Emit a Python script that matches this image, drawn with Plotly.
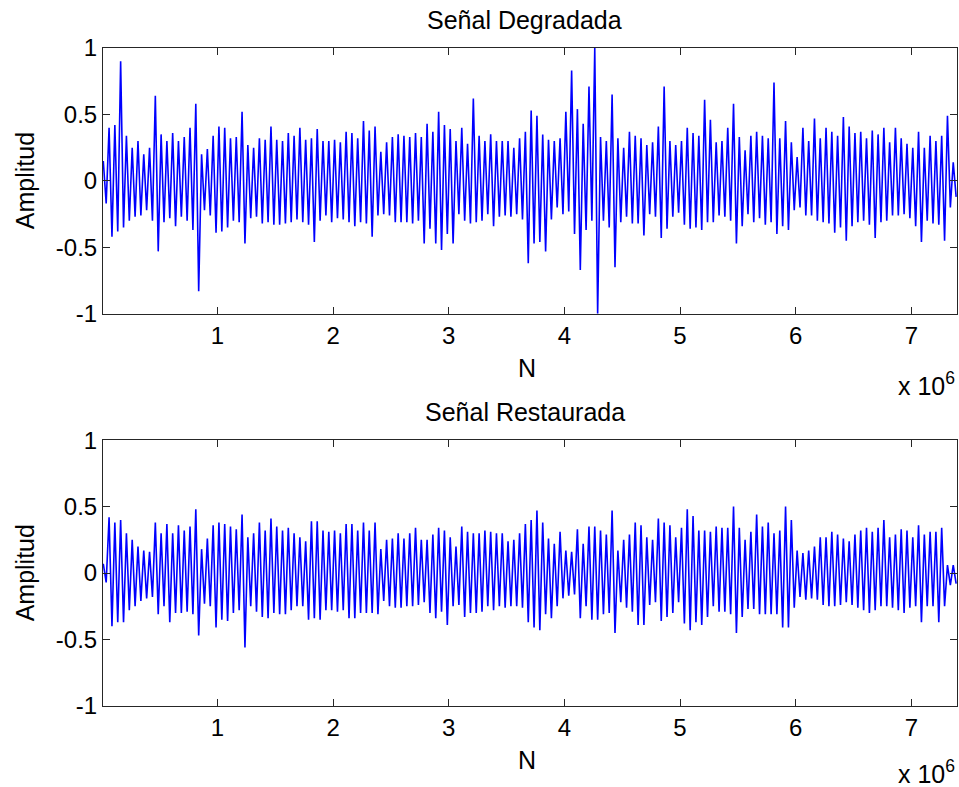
import numpy as np
import plotly.graph_objects as go

# envelope of the signal, one high/low pair every 50 000 samples
STEP = 50000

deg_hi = [0.15, 0.40, 0.42, 0.90, 0.34, 0.25, 0.30, 0.20, 0.25, 0.64,
          0.35, 0.30, 0.36, 0.30, 0.33, 0.40, 0.58, 0.20, 0.24, 0.34,
          0.41, 0.40, 0.32, 0.33, 0.52, 0.27, 0.25, 0.32, 0.31, 0.41,
          0.31, 0.30, 0.36, 0.34, 0.40, 0.31, 0.32, 0.39, 0.30, 0.30,
          0.31, 0.29, 0.37, 0.36, 0.32, 0.45, 0.38, 0.41, 0.22,
          0.29, 0.33, 0.35, 0.34, 0.33, 0.36, 0.33, 0.43, 0.37, 0.52,
          0.42, 0.39, 0.30, 0.40, 0.28, 0.62, 0.34, 0.30, 0.35, 0.30,
          0.30, 0.30, 0.25, 0.32, 0.37, 0.53, 0.49, 0.35, 0.31, 0.30,
          0.32, 0.52, 0.83, 0.54, 0.43, 0.71, 1.00, 0.33, 0.30, 0.65,
          0.32, 0.25, 0.37, 0.34, 0.32, 0.27, 0.29, 0.41, 0.71, 0.30,
          0.27, 0.30, 0.40, 0.36, 0.34, 0.61, 0.46, 0.29, 0.30, 0.40,
          0.58, 0.33, 0.23, 0.34, 0.37, 0.34, 0.32, 0.74, 0.32, 0.45,
          0.29, 0.18, 0.40, 0.30, 0.47, 0.32, 0.40, 0.37, 0.34, 0.48,
          0.41, 0.36, 0.37, 0.32, 0.38, 0.35, 0.40, 0.29, 0.40, 0.32,
          0.28, 0.25, 0.37, 0.25, 0.34, 0.30, 0.34, 0.49, 0.14]
deg_lo = [-0.17, -0.42, -0.38, -0.35, -0.30, -0.27, -0.26, -0.22, -0.30, -0.53,
          -0.31, -0.28, -0.34, -0.27, -0.30, -0.37, -0.83, -0.22, -0.26, -0.39,
          -0.38, -0.35, -0.30, -0.31, -0.47, -0.28, -0.27, -0.32, -0.31, -0.33,
          -0.33, -0.32, -0.31, -0.29, -0.31, -0.33, -0.46, -0.30, -0.26, -0.31,
          -0.28, -0.29, -0.31, -0.34, -0.31, -0.32, -0.42, -0.26, -0.25,
          -0.26, -0.31, -0.31, -0.31, -0.32, -0.30, -0.47, -0.36, -0.47, -0.52,
          -0.40, -0.47, -0.25, -0.30, -0.32, -0.31, -0.30, -0.25, -0.34, -0.27,
          -0.26, -0.27, -0.25, -0.29, -0.62, -0.47, -0.46, -0.53, -0.29, -0.20,
          -0.25, -0.23, -0.40, -0.67, -0.37, -0.30, -1.00, -0.30, -0.35, -0.65,
          -0.31, -0.27, -0.32, -0.32, -0.41, -0.25, -0.27, -0.43, -0.36, -0.27,
          -0.24, -0.33, -0.36, -0.35, -0.37, -0.31, -0.31, -0.26, -0.27, -0.30,
          -0.47, -0.34, -0.25, -0.31, -0.28, -0.33, -0.31, -0.40, -0.34, -0.37,
          -0.22, -0.20, -0.26, -0.26, -0.30, -0.31, -0.32, -0.39, -0.35, -0.45,
          -0.34, -0.31, -0.30, -0.33, -0.43, -0.31, -0.30, -0.26, -0.26, -0.25,
          -0.28, -0.34, -0.46, -0.30, -0.32, -0.33, -0.45, -0.20, -0.12]

rest_hi = [0.07, 0.42, 0.38, 0.40, 0.30, 0.25, 0.20, 0.17, 0.16, 0.38,
           0.30, 0.37, 0.30, 0.36, 0.32, 0.35, 0.48, 0.18, 0.26, 0.36,
           0.38, 0.37, 0.35, 0.33, 0.44, 0.27, 0.30, 0.38, 0.32, 0.41,
           0.35, 0.32, 0.34, 0.30, 0.27, 0.24, 0.39, 0.39, 0.32, 0.31,
           0.32, 0.30, 0.37, 0.37, 0.32, 0.38, 0.32, 0.38, 0.18,
           0.25, 0.26, 0.30, 0.26, 0.30, 0.34, 0.25, 0.25, 0.29, 0.34,
           0.32, 0.27, 0.20, 0.35, 0.31, 0.30, 0.30, 0.32, 0.31, 0.30,
           0.30, 0.24, 0.25, 0.30, 0.37, 0.40, 0.47, 0.38, 0.26, 0.22,
           0.31, 0.17, 0.16, 0.33, 0.22, 0.35, 0.35, 0.32, 0.29, 0.47,
           0.17, 0.25, 0.29, 0.38, 0.36, 0.27, 0.25, 0.41, 0.38, 0.36,
           0.27, 0.34, 0.48, 0.43, 0.32, 0.32, 0.31, 0.35, 0.34, 0.34,
           0.50, 0.34, 0.25, 0.31, 0.44, 0.35, 0.38, 0.30, 0.32, 0.50,
           0.40, 0.17, 0.15, 0.17, 0.20, 0.27, 0.27, 0.31, 0.29, 0.26,
           0.24, 0.29, 0.32, 0.34, 0.31, 0.34, 0.40, 0.27, 0.29, 0.33,
           0.32, 0.27, 0.36, 0.29, 0.31, 0.31, 0.34, 0.06, 0.06]
rest_lo = [-0.07, -0.40, -0.37, -0.37, -0.28, -0.25, -0.21, -0.19, -0.18, -0.31,
           -0.25, -0.37, -0.30, -0.30, -0.29, -0.31, -0.47, -0.23, -0.25, -0.41,
           -0.35, -0.36, -0.30, -0.28, -0.56, -0.25, -0.29, -0.33, -0.34, -0.30,
           -0.31, -0.31, -0.28, -0.25, -0.25, -0.35, -0.34, -0.35, -0.28, -0.28,
           -0.29, -0.28, -0.34, -0.34, -0.30, -0.30, -0.30, -0.31, -0.21,
           -0.25, -0.26, -0.26, -0.25, -0.25, -0.24, -0.22, -0.30, -0.34, -0.29,
           -0.39, -0.25, -0.24, -0.33, -0.30, -0.30, -0.29, -0.25, -0.28, -0.25,
           -0.26, -0.25, -0.25, -0.26, -0.37, -0.41, -0.43, -0.31, -0.34, -0.25,
           -0.19, -0.17, -0.16, -0.34, -0.25, -0.35, -0.35, -0.31, -0.30, -0.45,
           -0.22, -0.26, -0.29, -0.39, -0.39, -0.24, -0.22, -0.36, -0.33, -0.30,
           -0.22, -0.38, -0.43, -0.37, -0.39, -0.33, -0.25, -0.29, -0.29, -0.31,
           -0.45, -0.33, -0.27, -0.27, -0.31, -0.31, -0.31, -0.31, -0.41, -0.41,
           -0.26, -0.18, -0.20, -0.19, -0.20, -0.24, -0.25, -0.25, -0.24, -0.22,
           -0.24, -0.26, -0.28, -0.30, -0.28, -0.25, -0.25, -0.26, -0.28, -0.30,
           -0.26, -0.25, -0.37, -0.25, -0.25, -0.37, -0.25, -0.09, -0.08]

x_ticks = [1e6, 2e6, 3e6, 4e6, 5e6, 6e6, 7e6]
x_labels = ['1', '2', '3', '4', '5', '6', '7']
y_ticks = [-1, -0.5, 0, 0.5, 1]
y_labels = ['-1', '-0.5', '0', '0.5', '1']


def interleave(hi, lo):
    y = np.column_stack([hi, lo]).ravel()
    n = np.arange(len(y)) * STEP / 2 + STEP / 4
    return n, y


FONT = 'Liberation Sans, Arial, sans-serif'
FS = 25
TFS = 24

fig = go.Figure()
n, y = interleave(deg_hi, deg_lo)
fig.add_trace(go.Scatter(x=n, y=y, mode='lines', line=dict(color='#0000ff', width=1.6),
                         xaxis='x', yaxis='y', showlegend=False))
n, y = interleave(rest_hi, rest_lo)
fig.add_trace(go.Scatter(x=n, y=y, mode='lines', line=dict(color='#0000ff', width=1.6),
                         xaxis='x2', yaxis='y2', showlegend=False))

xax = dict(range=[1e4, 7.395e6], tickvals=x_ticks, ticktext=x_labels, ticks='inside',
           ticklen=7, tickcolor='#262626', showline=True, linecolor='#262626', linewidth=1,
           mirror='ticks', showgrid=False, zeroline=False,
           tickfont=dict(family=FONT, size=TFS, color='black'))
yax = dict(range=[-1, 1], tickvals=y_ticks, ticktext=y_labels, ticks='inside',
           ticklen=7, tickcolor='#262626', showline=True, linecolor='#262626', linewidth=1,
           mirror='ticks', showgrid=False, zeroline=False,
           tickfont=dict(family=FONT, size=TFS, color='black'))

fig.update_layout(
    width=959, height=787,
    margin=dict(l=103, r=2, t=48, b=81),
    paper_bgcolor='white', plot_bgcolor='white',
    xaxis=dict(xax, domain=[0, 1], anchor='y'),
    yaxis=dict(yax, domain=[0.596, 1], anchor='x'),
    xaxis2=dict(xax, domain=[0, 1], anchor='y2'),
    yaxis2=dict(yax, domain=[0, 0.404], anchor='x2'),
    font=dict(family=FONT, size=FS, color='black'),
)

txt = dict(xref='paper', yref='paper', showarrow=False, font=dict(family=FONT, size=FS, color='black'))
fig.add_annotation(text='Señal Degradada', x=0.494, y=1.0426, xanchor='center', yanchor='middle', **txt)
fig.add_annotation(text='Señal Restaurada', x=0.494, y=0.447, xanchor='center', yanchor='middle', **txt)
fig.add_annotation(text='N', x=0.497, y=0.514, xanchor='center', yanchor='middle', **txt)
fig.add_annotation(text='N', x=0.497, y=-0.082, xanchor='center', yanchor='middle', **txt)
fig.add_annotation(text='x 10<sup>6</sup>', x=1.0, y=0.49, xanchor='right', yanchor='middle', **txt)
fig.add_annotation(text='x 10<sup>6</sup>', x=1.0, y=-0.1, xanchor='right', yanchor='middle', **txt)
fig.add_annotation(text='Amplitud', x=-0.091, y=0.798, textangle=-90, xanchor='center', yanchor='middle', **txt)
fig.add_annotation(text='Amplitud', x=-0.091, y=0.202, textangle=-90, xanchor='center', yanchor='middle', **txt)

# drop the default 8px page margin so the figure fills the window exactly
fig.write_html("out.html", config={'displayModeBar': False},
               post_script="document.body.style.margin = '0';")
